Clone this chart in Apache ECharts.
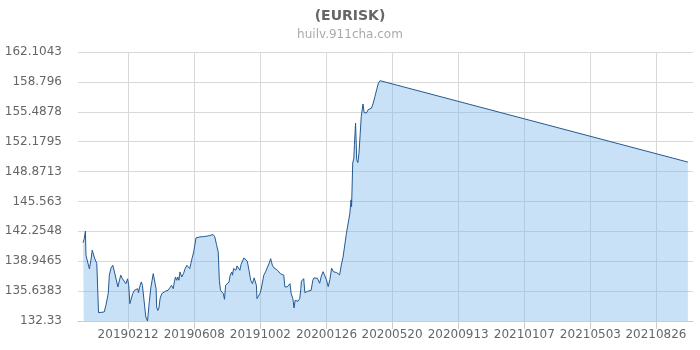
<!DOCTYPE html>
<html>
<head>
<meta charset="utf-8">
<script src="https://cdn.jsdelivr.net/npm/echarts@6/dist/echarts.min.js"></script>
<style>html,body{margin:0;padding:0;background:#fff}#c{width:700px;height:350px}</style>
</head>
<body>
<div id="c"></div>
<script>
// Category range (daily)
const firstDay = '20181116';
const lastDay = '20211030';
// X tick labels shown
const xTickLabels = ['20190212','20190608','20191002','20200126','20200520','20200913','20210107','20210503','20210826'];
// Y axis ticks (unit step and range in steps)
const yStep = 3.308251;
const yMinSteps = 40;
const yMaxSteps = 49;

// Observed sample dates
const sampleDates = [
'20181125','20181127','20181129','20181130','20181203','20181206','20181209','20181211','20181213','20181215',
'20181218','20181219','20181222','20181223','20190101','20190104','20190108','20190110','20190113','20190116',
'20190119','20190122','20190125','20190127','20190130','20190202','20190205','20190208','20190211','20190213',
'20190215','20190217','20190220','20190223','20190226','20190301','20190302','20190305','20190307','20190309',
'20190312','20190315','20190318','20190321','20190324','20190326','20190328','20190331','20190402','20190403',
'20190405','20190407','20190409','20190412','20190415','20190418','20190421','20190423','20190426','20190429',
'20190502','20190504','20190506','20190508','20190510','20190512','20190514','20190517','20190520','20190523',
'20190526','20190528','20190531','20190602','20190604','20190607','20190609','20190611','20190614','20190618',
'20190621','20190624','20190627','20190630','20190703','20190705','20190708','20190711','20190714','20190717',
'20190720','20190722','20190724','20190726','20190729','20190731','20190802','20190804','20190808','20190810',
'20190813','20190814','20190816','20190818','20190820','20190822','20190825','20190827','20190829','20190831',
'20190903','20190906','20190909','20190912','20190915','20190918','20190921','20190922','20190925','20190926',
'20190928','20191001','20191003','20191006','20191008','20191011','20191014','20191017','20191020','20191023',
'20191026','20191029','20191101','20191103','20191106','20191109','20191112','20191114','20191116','20191118',
'20191121','20191123','20191125','20191128','20191130','20191202','20191205','20191207','20191210','20191212',
'20191213','20191216','20191217','20191219','20191221','20191224','20191227','20191230','20200102','20200104',
'20200107','20200110','20200112','20200114','20200117','20200120','20200123','20200126','20200129','20200201',
'20200204','20200207','20200210','20200213','20200216','20200218','20200221','20200224','20200227','20200301',
'20200304','20200307','20200309','20200310','20200312','20200314','20200315','20200317','20200319','20200321',
'20200323','20200325','20200327','20200330','20200401','20200403','20200405','20200408','20200411','20200414',
'20200417','20200420','20200423','20200426','20200429','20211021'
];
// Observed EUR/ISK values
const sampleValues = [
141.0,141.45,142.27,139.6,139.5,138.1,139.2,140.17,140.06,139.3,
139.1,138.7,133.25,133.14,133.33,134.07,135.36,137.4,138.2,138.5,
137.76,137.57,136.1,136.65,137.4,137.0,136.84,136.46,137.0,136.28,
134.25,134.07,135.36,135.73,135.62,135.91,135.47,136.28,136.65,136.28,
136.28,132.77,132.33,134.4,136.1,136.84,137.57,137.46,135.9,133.88,
133.5,133.77,134.8,135.36,135.54,135.62,135.73,135.73,135.99,136.28,
135.91,136.65,137.2,136.84,137.2,136.84,137.76,137.2,137.57,138.13,
138.5,138.57,138.13,138.68,139.23,139.98,140.06,141.53,141.53,141.64,
141.56,141.67,141.64,141.72,141.72,141.79,141.9,141.9,141.64,140.79,
139.98,136.84,135.73,135.54,135.36,134.73,136.28,136.46,136.65,137.4,
137.76,137.4,138.13,138.13,137.95,138.43,138.5,137.95,138.57,138.68,
139.31,139.17,138.95,137.95,136.84,136.46,137.1,137.2,136.28,134.8,
134.62,135.36,135.73,135.91,137.4,137.76,137.95,138.68,139.23,138.5,
138.2,138.13,137.95,137.84,137.57,137.68,137.4,136.1,135.91,136.1,
135.91,136.46,135.36,134.8,133.77,134.62,134.4,134.51,134.8,135.91,
136.73,136.84,137.02,135.47,135.54,135.62,135.73,135.73,136.84,137.1,
137.02,137.06,137.24,136.51,137.32,137.79,137.68,136.87,136.13,136.95,
138.17,137.79,137.9,137.68,137.79,137.43,138.54,139.39,139.28,142.05,
142.23,144.27,145.74,145.0,149.81,150.36,151.84,154.24,150.17,149.87,
150.9,152.94,154.97,156.35,155.4,155.53,155.35,155.72,155.79,155.9,
156.45,157.19,157.93,158.67,158.93,149.92
];

function parseD(s){return Date.UTC(+s.slice(0,4), +s.slice(4,6)-1, +s.slice(6,8));}
function fmtD(t){const d=new Date(t);const m=d.getUTCMonth()+1, dd=d.getUTCDate();return d.getUTCFullYear()+(m<10?'0':'')+m+(dd<10?'0':'')+dd;}
const categories=[];
for(let t=parseD(firstDay); t<=parseD(lastDay); t+=86400000){categories.push(fmtD(t));}
const valueMap={};
sampleDates.forEach((d,i)=>{valueMap[d]=sampleValues[i];});
const seriesData=categories.map(d=> (d in valueMap)? valueMap[d] : null);
const showTick=(idx,val)=>xTickLabels.indexOf(val)>=0;

const chart=echarts.init(document.getElementById('c'),null,{renderer:'canvas'});
chart.setOption({
  animation:false,
  title:{
    text:'(EURISK)', subtext:'huilv.911cha.com', left:'center', top:4, itemGap:6,
    textStyle:{fontFamily:'DejaVu Sans',fontSize:14,fontWeight:'bold',color:'#666'},
    subtextStyle:{fontFamily:'DejaVu Sans',fontSize:12,color:'#aaa'}
  },
  grid:{left:78,right:7,top:52,bottom:29,containLabel:false},
  xAxis:{
    type:'category', data:categories, boundaryGap:false,
    axisLine:{lineStyle:{color:'#ccc'}},
    axisTick:{show:true,interval:showTick,length:8,lineStyle:{color:'#ccc'}},
    axisLabel:{interval:showTick,color:'#666',fontFamily:'DejaVu Sans',fontSize:12,margin:8},
    splitLine:{show:true,interval:showTick,lineStyle:{color:'#d9d9d9'}}
  },
  yAxis:{
    type:'value', min:yStep*yMinSteps, max:yStep*yMaxSteps, interval:yStep,
    axisLine:{show:false}, axisTick:{show:false},
    axisLabel:{color:'#666',fontFamily:'DejaVu Sans',fontSize:12,margin:16,
      formatter:v=>String(+(+v).toFixed(4))},
    splitLine:{show:true,lineStyle:{color:'#d9d9d9'}}
  },
  series:[{
    type:'line', data:seriesData, connectNulls:true, showSymbol:false, symbol:'none',
    lineStyle:{color:'#245a92',width:1},
    itemStyle:{color:'#245a92'},
    areaStyle:{color:'rgb(120,180,232)',opacity:0.4}
  }]
});
</script>
</body>
</html>
